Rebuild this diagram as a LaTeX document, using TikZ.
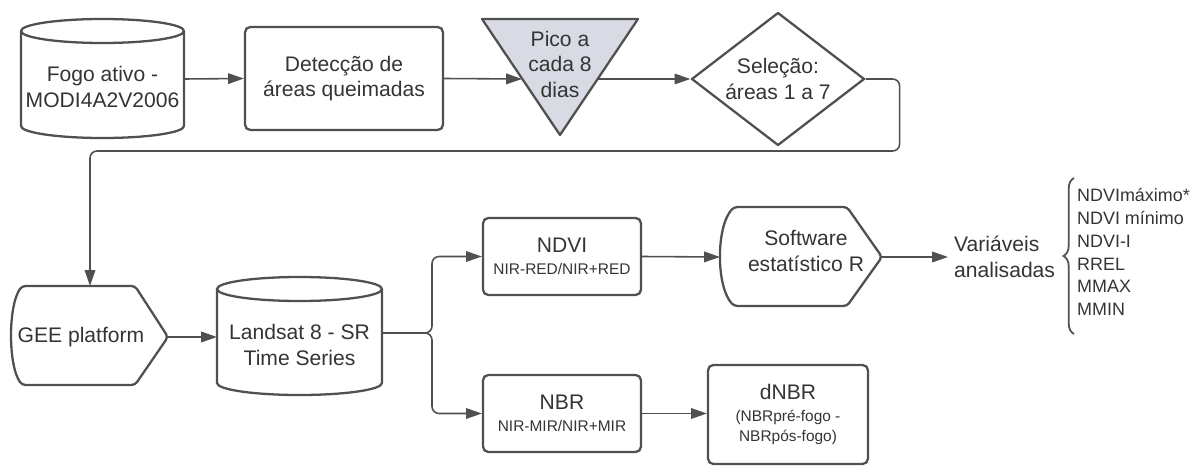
\documentclass[tikz,border=0pt]{standalone}
\usepackage{fontspec}
\setmainfont{Liberation Sans}
\usetikzlibrary{arrows.meta,shapes.geometric,decorations.pathreplacing}
\definecolor{linegray}{RGB}{80,80,80}
\definecolor{textgray}{RGB}{52,52,52}
\definecolor{picofill}{RGB}{216,219,227}
\newcommand\subtxt[1]{{\fontsize{8.8}{10}\selectfont #1}}

\begin{document}
\begin{tikzpicture}
    [x=0.02cm, y=-0.02cm,
     every node/.style={text=textgray, font=\fontsize{12}{14.5}\selectfont, align=center},
     outline/.style={draw=linegray, line width=1.3pt, line join=round},
     box/.style={outline, rectangle, rounded corners=3pt, inner sep=0pt},
     link/.style={draw=linegray, line width=0.9pt, -{Triangle[length=9pt,width=6pt]}}]
    \useasboundingbox (0,0) rectangle (1204,466);

    % first row: fire data down to the area selection
    \draw[outline] (21,31) -- (21,126) arc[start angle=180, end angle=0, x radius=81.5, y radius=12] -- (184,31);
    \draw[outline] (102.5,31) ellipse [x radius=81.5, y radius=12];
    \node (fogo) at (102.5,87) {Fogo ativo -\\MODI4A2V2006};
    \coordinate (fogo-e) at (184,79);

    \node[box, minimum width=3.96cm, minimum height=2.06cm] (deteccao) at (344,78.5) {Detecção de\\áreas queimadas};

    \draw[outline, fill=picofill] (482,19) -- (638,19) -- (560,135) -- cycle;
    \node (pico) at (560,64) {Pico a\\cada 8\\dias};
    \coordinate (pico-w) at (522,79);
    \coordinate (pico-e) at (598,79);

    \node[diamond, outline, aspect=1.3, minimum width=3.46cm, minimum height=2.66cm, inner sep=0pt] (selecao) at (778,79) {Seleção:\\áreas 1 a 7};

    \draw[link] (fogo-e) -- (deteccao.west);
    \draw[link] (deteccao.east) -- (pico-w);
    \draw[link] (pico-e) -- (selecao.west);

    % second row
    \draw[outline, rounded corners=2pt] (135,286) -- (168,337) -- (135,385) -- (22,385) .. controls (8,365) and (8,306) .. (22,286) -- cycle;
    \node (gee) at (81,337) {GEE platform};
    \coordinate (gee-n) at (90,286);
    \coordinate (gee-e) at (168,337);
    \coordinate (bend) at (90,151);

    \draw[link, rounded corners=4pt] (selecao.east) -- ++(34,0) |- (bend) -- (gee-n);

    \draw[outline] (217,289) -- (217,383) arc[start angle=180, end angle=0, x radius=82.5, y radius=12] -- (382,289);
    \draw[outline] (299.5,289) ellipse [x radius=82.5, y radius=12];
    \node (landsat) at (299.5,345) {Landsat 8 - SR\\Time Series};
    \coordinate (landsat-w) at (217,337);
    \coordinate (landsat-e) at (382,333);
    \coordinate (split) at (432,333);

    \draw[link] (gee-e) -- (landsat-w);

    \node[box, minimum width=3.16cm, minimum height=1.54cm] (ndvi) at (562,256.5) {NDVI\\[-2pt]\subtxt{NIR-RED/NIR+RED}};
    \node[box, minimum width=3.16cm, minimum height=1.54cm] (nbr) at (562,413.5) {NBR\\[-2pt]\subtxt{NIR-MIR/NIR+MIR}};

    \draw[link, rounded corners=4pt] (landsat-e) -- (split) |- (ndvi.west);
    \draw[link, rounded corners=4pt] (landsat-e) -- (split) |- (nbr.west);

    \draw[outline, rounded corners=2pt] (847,207) -- (882,257) -- (847,306) -- (734,306) .. controls (716,286) and (716,227) .. (734,207) -- cycle;
    \node (software) at (806,251) {Software\\estatístico R};
    \coordinate (software-w) at (720,257);
    \coordinate (software-e) at (882,257);

    \node[box, minimum width=3.2cm, minimum height=1.98cm] (dnbr) at (788,414.5) {dNBR\\[-2pt]\subtxt{(NBRpré-fogo -}\\[-3pt]\subtxt{NBRpós-fogo)}};

    \draw[link] (ndvi.east) -- (software-w);
    \draw[link] (nbr.east) -- (nbr.east -| dnbr.west);

    % analysed variables
    \node[anchor=west, align=left] (variaveis) at (948,257) {Variáveis\\analisadas};
    \node[anchor=west, align=left, font=\fontsize{10.2}{13}\selectfont] (lista) at (1071,252) {NDVImáximo*\\NDVI mínimo\\NDVI-I\\RREL\\MMAX\\MMIN};
    \draw[link] (software-e) -- (software-e -| variaveis.west);
    \draw[linegray, line width=1pt, decorate, decoration={brace, amplitude=6pt}] (1074,334) -- (1074,178);
\end{tikzpicture}
\end{document}
